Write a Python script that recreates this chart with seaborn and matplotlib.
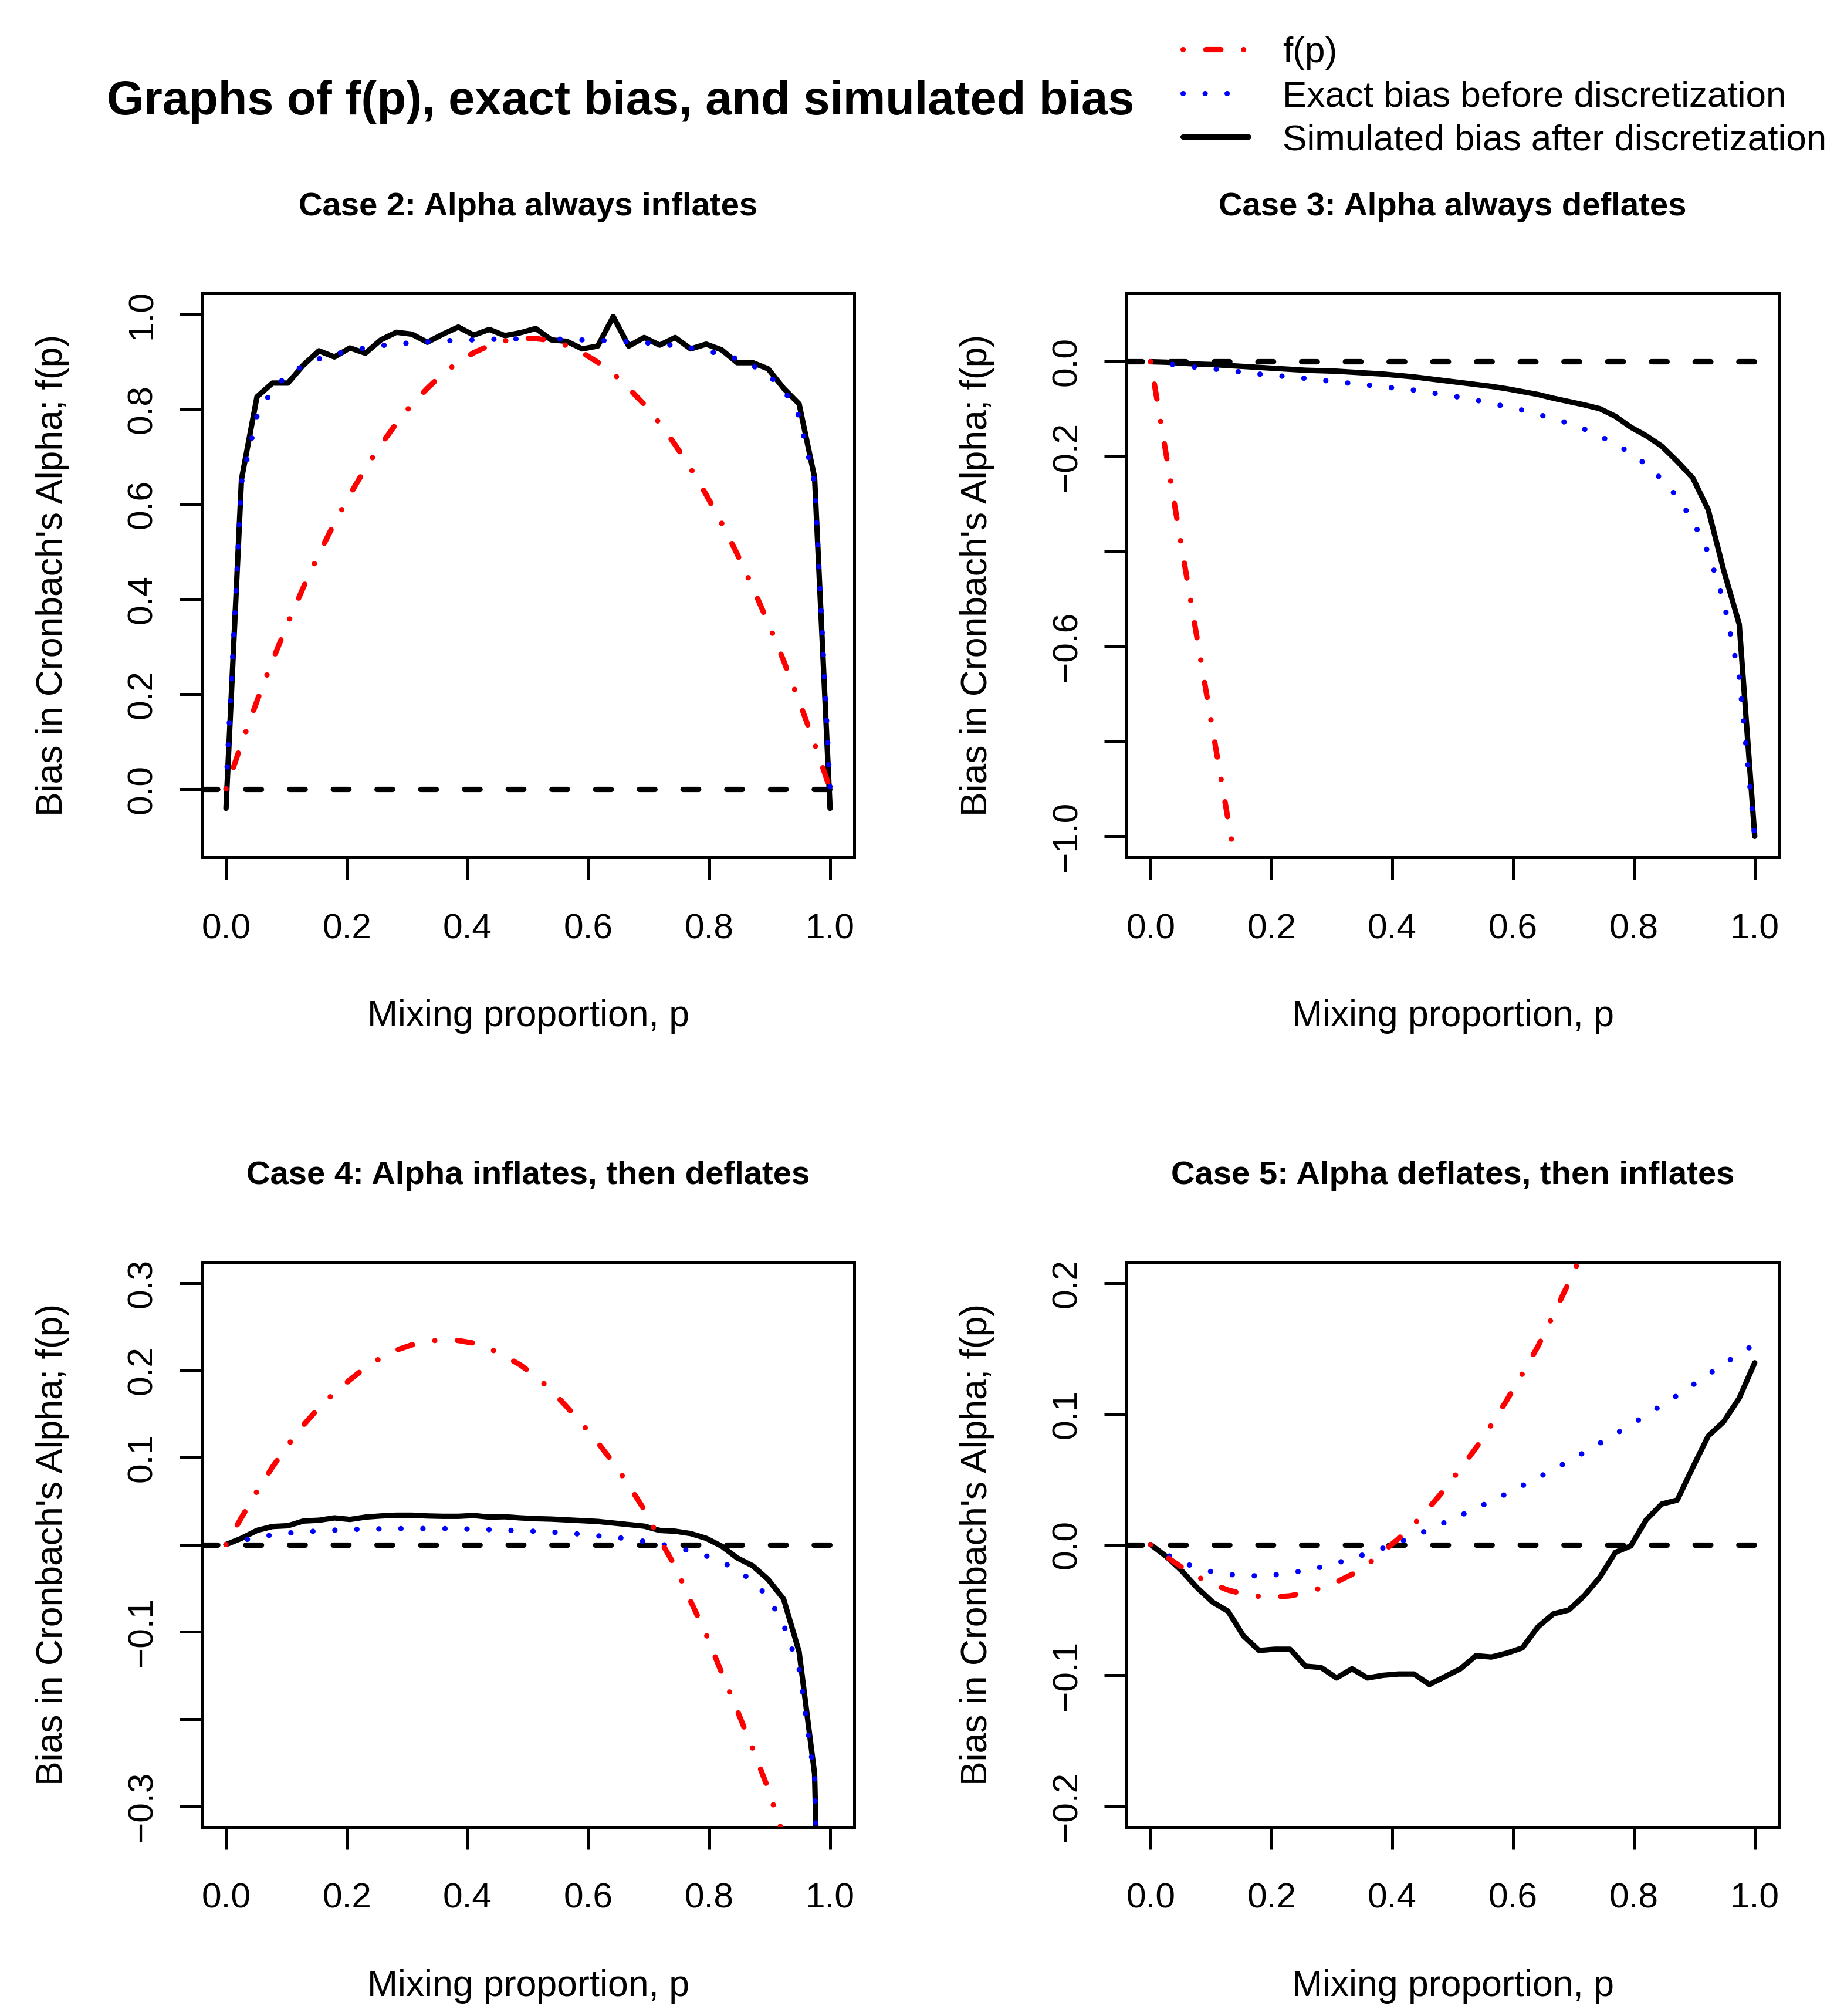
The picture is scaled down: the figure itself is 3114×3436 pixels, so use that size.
import numpy as np
import matplotlib
matplotlib.use("Agg")
import matplotlib.pyplot as plt
from matplotlib.lines import Line2D
import seaborn as sns

# ---------------- data ----------------
p_grid = np.linspace(0, 1, 40)

case2_f = [0.0, 0.095, 0.185, 0.270, 0.350, 0.425, 0.495, 0.560, 0.620, 0.675,
           0.725, 0.770, 0.810, 0.844, 0.875, 0.899, 0.919, 0.934, 0.944, 0.949,
           0.949, 0.944, 0.934, 0.919, 0.899, 0.875, 0.844, 0.810, 0.770, 0.725,
           0.675, 0.620, 0.560, 0.495, 0.425, 0.350, 0.270, 0.185, 0.095, 0.0]
case2_exact = [0.0, 0.645, 0.785, 0.842, 0.872, 0.892, 0.906, 0.916, 0.923, 0.929,
               0.934, 0.937, 0.940, 0.942, 0.944, 0.945, 0.946, 0.947, 0.948, 0.948,
               0.948, 0.948, 0.947, 0.946, 0.945, 0.944, 0.942, 0.940, 0.937, 0.934,
               0.929, 0.923, 0.916, 0.906, 0.892, 0.872, 0.842, 0.785, 0.645, 0.0]
case2_sim = [-0.041, 0.652, 0.826, 0.855, 0.855, 0.893, 0.923, 0.910, 0.929, 0.918,
             0.946, 0.962, 0.958, 0.941, 0.958, 0.973, 0.956, 0.968, 0.955, 0.961,
             0.970, 0.946, 0.943, 0.927, 0.933, 0.995, 0.933, 0.951, 0.935, 0.951,
             0.927, 0.937, 0.925, 0.898, 0.898, 0.885, 0.844, 0.811, 0.656, -0.041]

case3_f = [0.0, -0.195, -0.390, -0.583, -0.775, -0.965, -1.155]
case3_exact = [0.0, -0.004, -0.008, -0.012, -0.015, -0.019, -0.022, -0.026, -0.029, -0.032,
               -0.035, -0.039, -0.042, -0.046, -0.049, -0.053, -0.056, -0.060, -0.065, -0.070,
               -0.075, -0.081, -0.088, -0.095, -0.102, -0.111, -0.120, -0.130, -0.142, -0.157,
               -0.173, -0.193, -0.217, -0.248, -0.285, -0.335, -0.402, -0.505, -0.664, -1.0]
case3_sim = [0.0, -0.001, -0.003, -0.005, -0.006, -0.008, -0.010, -0.012, -0.014, -0.016,
             -0.018, -0.019, -0.020, -0.022, -0.024, -0.026, -0.029, -0.032, -0.036, -0.040,
             -0.044, -0.048, -0.052, -0.057, -0.063, -0.069, -0.077, -0.084, -0.091, -0.099,
             -0.115, -0.138, -0.156, -0.178, -0.210, -0.245, -0.312, -0.440, -0.553, -1.0]

case4_f = [0.0, 0.031, 0.061, 0.089, 0.114, 0.137, 0.157, 0.174, 0.189, 0.203,
           0.214, 0.223, 0.229, 0.233, 0.235, 0.234, 0.231, 0.225, 0.216, 0.206,
           0.193, 0.177, 0.158, 0.138, 0.117, 0.094, 0.068, 0.040, 0.006, -0.025,
           -0.065, -0.103, -0.147, -0.190, -0.234, -0.280, -0.335, -0.390]
case4_exact = [0.0, 0.0045, 0.0085, 0.011, 0.0132, 0.0145, 0.0156, 0.0165, 0.0172, 0.0177,
               0.018, 0.0183, 0.0184, 0.0184, 0.0184, 0.018, 0.0176, 0.0171, 0.0165, 0.0158,
               0.0152, 0.0142, 0.0132, 0.0118, 0.010, 0.0085, 0.0066, 0.0037, 0.0008, -0.003,
               -0.0075, -0.013, -0.020, -0.029, -0.042, -0.060, -0.092, -0.143, -0.268, -1.0]
case4_sim = [0.0, 0.0072, 0.0162, 0.0207, 0.0216, 0.027, 0.0279, 0.0306, 0.0288, 0.0315,
             0.0328, 0.0337, 0.0337, 0.0328, 0.0324, 0.0324, 0.0333, 0.0315, 0.0319, 0.0306,
             0.0297, 0.0292, 0.0283, 0.0274, 0.0265, 0.0247, 0.0229, 0.0211, 0.0162, 0.0153,
             0.0126, 0.0072, -0.0018, -0.0153, -0.0243, -0.040, -0.0625, -0.123, -0.263, -1.0]

case5_f = [0.0, -0.0092, -0.0173, -0.0245, -0.0302, -0.0348, -0.0378, -0.0396, -0.0401, -0.0392,
           -0.0368, -0.0332, -0.0286, -0.0228, -0.0152, -0.0055, 0.0045, 0.0155, 0.0285, 0.0425,
           0.058, 0.0738, 0.0915, 0.1105, 0.1305, 0.1515, 0.1755, 0.2005, 0.226]
case5_exact = [0.0, -0.0075, -0.0135, -0.0178, -0.021, -0.0228, -0.0237, -0.024, -0.0232, -0.0216,
               -0.0198, -0.0172, -0.0142, -0.0106, -0.0068, -0.0027, 0.0016, 0.0065, 0.0117, 0.017,
               0.0222, 0.0278, 0.0333, 0.039, 0.045, 0.0512, 0.0573, 0.0638, 0.0705, 0.0775,
               0.0845, 0.0915, 0.099, 0.1065, 0.114, 0.122, 0.130, 0.138, 0.146, 0.153]
case5_sim = [0.0, -0.009, -0.020, -0.033, -0.044, -0.051, -0.070, -0.081, -0.080, -0.080,
             -0.093, -0.094, -0.102, -0.095, -0.102, -0.100, -0.099, -0.099, -0.107, -0.101,
             -0.095, -0.085, -0.086, -0.083, -0.079, -0.063, -0.053, -0.050, -0.039, -0.025,
             -0.006, -0.001, 0.019, 0.031, 0.034, 0.059, 0.083, 0.094, 0.112, 0.139]

panel_titles = ["Case 2: Alpha always inflates", "Case 3: Alpha always deflates",
                "Case 4: Alpha inflates, then deflates", "Case 5: Alpha deflates, then inflates"]
y_limits = [(-0.1, 1.0), (-1.0, 0.1), (-0.3, 0.3), (-0.2, 0.2)]
y_ticks = [[0.0, 0.2, 0.4, 0.6, 0.8, 1.0],
           [0.0, -0.2, -0.4, -0.6, -0.8, -1.0],
           [0.3, 0.2, 0.1, 0.0, -0.1, -0.2, -0.3],
           [0.2, 0.1, 0.0, -0.1, -0.2]]
y_ticklabels = [["0.0", "0.2", "0.4", "0.6", "0.8", "1.0"],
                ["0.0", "\u22120.2", "", "\u22120.6", "", "\u22121.0"],
                ["0.3", "0.2", "0.1", "", "\u22120.1", "", "\u22120.3"],
                ["0.2", "0.1", "0.0", "\u22120.1", "\u22120.2"]]
x_ticks = [0.0, 0.2, 0.4, 0.6, 0.8, 1.0]
x_ticklabels = ["0.0", "0.2", "0.4", "0.6", "0.8", "1.0"]
legend_labels = ["f(p)", "Exact bias before discretization", "Simulated bias after discretization"]
main_title = "Graphs of f(p), exact bias, and simulated bias"
x_label = "Mixing proportion, p"
y_label = "Bias in Cronbach's Alpha; f(p)"

series = [(case2_f, case2_exact, case2_sim), (case3_f, case3_exact, case3_sim),
          (case4_f, case4_exact, case4_sim), (case5_f, case5_exact, case5_sim)]

# ---------------- styling ----------------
sns.set_theme(style="white")
plt.rcParams['font.family'] = ['Liberation Sans', 'DejaVu Sans']
plt.rcParams['axes.unicode_minus'] = True

W, H = 3114, 3436
DPI = 300
PX = 72.0 / DPI          # points per pixel
LW = 9.2 * PX            # data line width
BOX_LW = 5.0 * PX
TICK_LEN = 38 * PX

RED_LS = (0, (0.01, 4.2, 2.8, 4.2))
BLUE_LS = (0, (0.01, 4.07))
ZERO_LS = (0, (2.9, 5.2))

fig = plt.figure(figsize=(W / DPI, H / DPI), dpi=DPI)
fig.patch.set_facecolor("white")

boxes = [(344, 500, 1456, 1461), (1920, 500, 3032, 1461),
         (344, 2151, 1456, 3114), (1920, 2151, 3032, 3114)]

for k, (x0, y0, x1, y1) in enumerate(boxes):
    ax = fig.add_axes([x0 / W, 1 - y1 / H, (x1 - x0) / W, (y1 - y0) / H])
    ax.set_facecolor("white")
    f_vals, ex_vals, sim_vals = series[k]

    ax.axhline(0, color="black", lw=LW, linestyle=ZERO_LS, dash_capstyle="round", zorder=2)
    sns.lineplot(x=p_grid[:len(sim_vals)], y=sim_vals, ax=ax, color="black", lw=LW,
                 estimator=None, sort=False, legend=False,
                 solid_capstyle="round", solid_joinstyle="round", zorder=3)
    sns.lineplot(x=p_grid[:len(ex_vals)], y=ex_vals, ax=ax, color="blue", lw=LW,
                 linestyle=BLUE_LS, dash_capstyle="round", dash_joinstyle="round",
                 estimator=None, sort=False, legend=False, zorder=4)
    sns.lineplot(x=p_grid[:len(f_vals)], y=f_vals, ax=ax, color="red", lw=LW,
                 linestyle=RED_LS, dash_capstyle="round", dash_joinstyle="round",
                 estimator=None, sort=False, legend=False, zorder=5)

    lo, hi = y_limits[k]
    pad = 0.04 * (hi - lo)
    ax.set_ylim(lo - pad, hi + pad)
    ax.set_xlim(-0.04, 1.04)

    ax.set_xticks(x_ticks)
    ax.set_xticklabels(x_ticklabels, fontsize=14.5, color="black")
    ax.set_yticks(y_ticks[k])
    ax.set_yticklabels(y_ticklabels[k], fontsize=14.5, color="black",
                       rotation=90, va="center", ha="right")
    ax.tick_params(axis="both", which="major", direction="out", length=TICK_LEN,
                   width=BOX_LW, color="black", left=True, bottom=True,
                   right=False, top=False)
    ax.tick_params(axis="x", pad=57 * PX)
    ax.tick_params(axis="y", pad=36 * PX)

    for s in ax.spines.values():
        s.set_visible(True)
        s.set_color("black")
        s.set_linewidth(BOX_LW)

    ax.set_xlabel(x_label, fontsize=15, color="black")
    ax.xaxis.set_label_coords(0.5, -(287 - 45) / (y1 - y0))
    ax.set_ylabel(y_label, fontsize=15, color="black")
    ax.yaxis.set_label_coords(-(238 - 13) / (x1 - x0), 0.5)

    ax.set_title(panel_titles[k], fontsize=13.5, fontweight="bold", color="black",
                 pad=133 * PX)
    ax.grid(False)

# main title
fig.text(182 / W, 1 - 195 / H, main_title, fontsize=19.5, fontweight="bold",
         color="black", ha="left", va="baseline")

# legend drawn in figure space (outside the panels; the last label runs to the edge as in the reference)
leg_rows = [84, 159, 233]
leg_styles = [("red", RED_LS, 2016, 2130), ("blue", BLUE_LS, 2016, 2124),
              ("black", "-", 2016, 2128)]
for (col, ls, lx0, lx1), row, lab in zip(leg_styles, leg_rows, legend_labels):
    ln = Line2D([lx0 / W, lx1 / W], [1 - row / H, 1 - row / H], transform=fig.transFigure,
                color=col, lw=LW, linestyle=ls, dash_capstyle="round",
                solid_capstyle="round")
    fig.add_artist(ln)
    fig.text(2186 / W, 1 - (row + 22) / H, lab, fontsize=14.9, color="black",
             ha="left", va="baseline")

fig.savefig("out.png", dpi=DPI, facecolor="white")
